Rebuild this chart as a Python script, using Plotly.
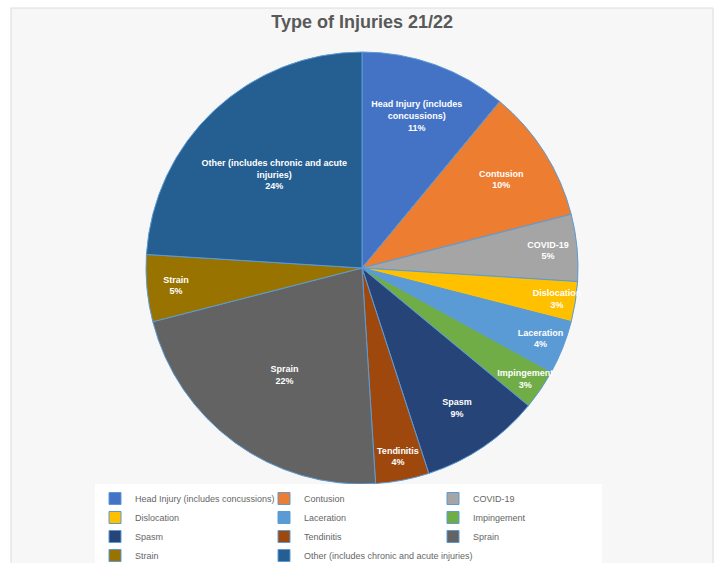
import plotly.graph_objects as go

categories = ["Head Injury (includes concussions)", "Contusion", "COVID-19", "Dislocation",
              "Laceration", "Impingement", "Spasm", "Tendinitis", "Sprain", "Strain",
              "Other (includes chronic and acute injuries)"]
values = [11, 10, 5, 3, 4, 3, 9, 4, 22, 5, 24]
slice_labels = ["Head Injury (includes<br>concussions)", "Contusion", "COVID-19", "Dislocation",
                "Laceration", "Impingement", "Spasm", "Tendinitis", "Sprain", "Strain",
                "Other (includes chronic and acute<br>injuries)"]
colors = ["#4472C4", "#ED7D31", "#A5A5A5", "#FFC000", "#5B9BD5", "#70AD47",
          "#264478", "#9E480E", "#636363", "#997300", "#255E91"]

texts = [f"<b>{l}<br>{v}%</b>" for l, v in zip(slice_labels, values)]

fig = go.Figure(go.Pie(
    labels=categories, values=values, text=texts, textinfo="text",
    sort=False, direction="clockwise", rotation=0,
    marker=dict(colors=colors, line=dict(color="#5B9BD5", width=1)),
    textposition="inside", insidetextorientation="horizontal",
    textfont=dict(color="white", size=9, family="Liberation Sans"),
    hoverinfo="label+percent",
))

L, R, T, B = 95, 91, 52, 79
W, H = 720 - L - R, 563 - T - B

fig.update_layout(
    width=720, height=563,
    margin=dict(l=L, r=R, t=T, b=B, autoexpand=False),
    paper_bgcolor="white",
    title=dict(text="<b>Type of Injuries 21/22</b>", x=0.503, xanchor="center", y=0.962, yanchor="middle",
               font=dict(size=18, color="#595959", family="Liberation Sans")),
    uniformtext=dict(minsize=9, mode="show"),
    legend=dict(orientation="h", x=0.0, xanchor="left", xref="paper",
                y=1 - 484 / 563, yanchor="top", yref="container",
                entrywidth=124, entrywidthmode="pixels",
                font=dict(size=9, color="#666666", family="Liberation Sans"),
                bgcolor="white", traceorder="normal"),
    shapes=[dict(type="rect", xref="paper", yref="paper", layer="below",
                 x0=(11 - L) / W, x1=(713 - L) / W, y0=(484 - 575) / H, y1=(484 - 8) / H,
                 fillcolor="#f7f7f7", line=dict(color="#dcdcdc", width=1))],
)

fig.write_html("out.html")
